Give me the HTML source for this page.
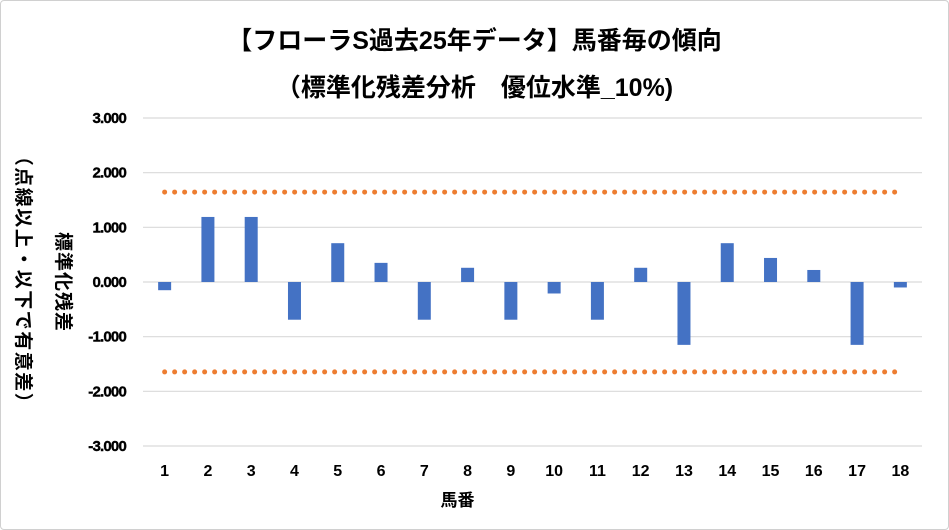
<!DOCTYPE html>
<html><head><meta charset="utf-8">
<style>
body{margin:0;background:#fff;}
#wrap{position:relative;width:949px;height:530px;overflow:hidden;font-family:"Liberation Sans","Noto Sans CJK JP",sans-serif;}
#frame{position:absolute;left:0;top:0;width:947px;height:528px;border:1px solid #d0d0d0;border-radius:4px;}
.title{position:absolute;left:0;width:949px;text-align:center;font-weight:bold;font-size:25px;color:#000;}
.ytitle{position:absolute;width:300px;height:24px;line-height:24px;text-align:center;font-weight:bold;font-size:19px;color:#000;white-space:nowrap;transform:rotate(90deg);}
</style></head>
<body>
<div id="wrap">
<div id="frame"></div>
<div class="title" style="top:21px">【フローラS過去25年データ】馬番毎の傾向</div>
<div class="title" style="top:68px">（標準化残差分析　優位水準_10%)</div>
<div class="ytitle" style="left:-88px;top:270px;letter-spacing:1px">標準化残差</div>
<div class="ytitle" style="left:-128px;top:268px;letter-spacing:1.5px">（点線以上・以下で有意差）</div>
<svg id="svg" width="949" height="530" style="position:absolute;left:0;top:0"></svg>
</div>
<script>
const categories=["1","2","3","4","5","6","7","8","9","10","11","12","13","14","15","16","17","18"];
const residuals=[-0.15,1.19,1.19,-0.69,0.71,0.35,-0.69,0.26,-0.69,-0.21,-0.69,0.26,-1.15,0.71,0.44,0.22,-1.15,-0.10];
const thresholdUpper=1.645;
const thresholdLower=-1.645;
const yTicks=[3,2,1,0,-1,-2,-3];
const xAxisTitle="馬番";

const NS="http://www.w3.org/2000/svg";
const svg=document.getElementById('svg');
const X0=143,X1=922,Y0=118,Y1=446;
const band=(X1-X0)/categories.length;
const xc=i=>X0+band*(i+0.5);
const y=v=>Y0+(3-v)*(Y1-Y0)/6;
function mk(t,a){const e=document.createElementNS(NS,t);for(const k in a)e.setAttribute(k,a[k]);svg.appendChild(e);return e;}
yTicks.forEach(v=>{
  const g=mk('line',{x1:X0,x2:X1,y1:y(v),y2:y(v),stroke:'#d9d9d9','stroke-width':1.2});
  
  
  const t=mk('text',{x:126,y:y(v)+5,'text-anchor':'end','font-size':15,'font-weight':'bold','font-family':'Liberation Sans, sans-serif','letter-spacing':'-0.8',stroke:'#000','stroke-width':0.4});
  t.textContent=v.toFixed(3);
  
  
});
residuals.forEach((v,i)=>{
  const top=Math.min(y(v),y(0)),h=Math.abs(y(v)-y(0));
  const r=mk('rect',{x:xc(i)-6.5,y:top,width:13,height:h,fill:'#4472c4'});
  
  
  const t=mk('text',{x:xc(i),y:476,'text-anchor':'middle','font-size':16,'font-weight':'bold','font-family':'Liberation Sans, sans-serif'});
  t.textContent=categories[i];
  
  
});
[thresholdUpper,thresholdLower].forEach(v=>{
  const l=mk('line',{x1:xc(0),x2:xc(categories.length-1),y1:y(v),y2:y(v),stroke:'#ed7d31','stroke-width':5,'stroke-linecap':'round','stroke-dasharray':'0 10'});
  
  
});
const xt=mk('text',{x:(X0+X1)/2-75,y:506,'text-anchor':'middle','font-size':17,'font-weight':'bold','font-family':'Liberation Sans, Noto Sans CJK JP, sans-serif'});
xt.textContent=xAxisTitle;


</script>
</body></html>
